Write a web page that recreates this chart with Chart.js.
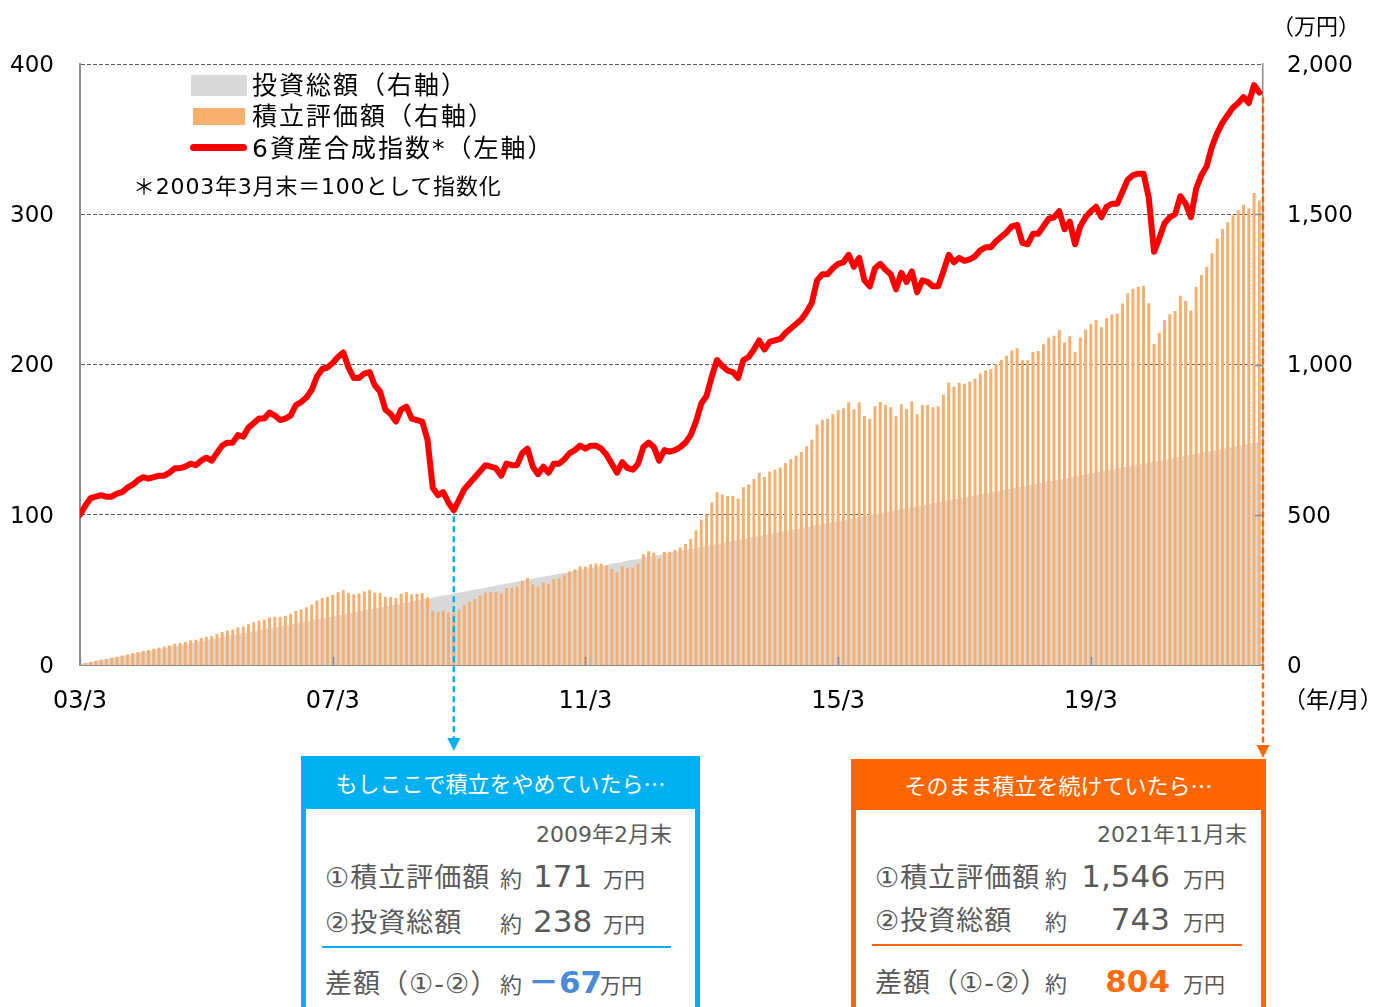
<!DOCTYPE html>
<html lang="ja">
<head>
<meta charset="utf-8">
<title>6資産合成指数と積立評価額</title>
<script src="https://cdn.jsdelivr.net/npm/chart.js@4.4.1/dist/chart.umd.min.js"></script>
<style>
  html, body { margin: 0; padding: 0; background: #fff; }
  body {
    width: 1394px; height: 1007px; position: relative; overflow: hidden;
    font-family: 'DejaVu Sans', 'Noto Sans CJK JP', sans-serif; color: #000;
  }
  #chart { position: absolute; left: 0; top: 0; }
  .t { position: absolute; line-height: 1; white-space: nowrap; }
  .leg { font-size: 25px; letter-spacing: 2px; }
  .sw { position: absolute; }
  .box {
    position: absolute; box-sizing: border-box; height: 270px;
    border: 5px solid; border-top: none; background: #fff;
  }
  .head {
    margin: 0 -5px; color: #fff; font-size: 22px; text-align: center;
    font-family: 'Noto Sans CJK JP', sans-serif;
  }
  .row {
    position: absolute; display: flex; align-items: baseline;
    line-height: 1; white-space: nowrap; color: #595959;
  }
  .row span { display: inline-block; }
  .lab { font-size: 27px; letter-spacing: 1px; }
  .yaku { font-size: 22px; }
  .num { font-size: 31px; }
  .unit { font-size: 21px; }
  .rule { position: absolute; height: 2px; }
</style>
</head>
<body>
<canvas id="chart" width="1394" height="1007"></canvas>

<!-- legend -->
<div class="sw" style="left:191px;top:75px;width:56px;height:21px;background:#d9d9d9"></div>
<div class="sw" style="left:193px;top:108px;width:52px;height:17px;background:#f8ae6c"></div>
<div class="sw" style="left:190px;top:144px;width:57px;height:7px;background:#ff0000;border-radius:4px"></div>
<div class="t leg" style="left:252px;top:73px">投資総額（右軸）</div>
<div class="t leg" style="left:252px;top:104px">積立評価額（右軸）</div>
<div class="t leg" style="left:252px;top:136px">6資産合成指数*（左軸）</div>
<div class="t" style="left:133px;top:176px;font-size:22px;letter-spacing:0.8px">＊2003年3月末＝100として指数化</div>

<!-- axis units -->
<div class="t" style="left:1272px;top:16px;font-size:22px">（万円）</div>
<div class="t" style="left:1283px;top:689px;font-size:23px">（年/月）</div>

<!-- left box -->
<div class="box" style="left:301px;top:756px;width:399px;border-color:#00b0f0">
  <div class="head" style="background:#00b0f0;height:53px;line-height:53px">もしここで積立をやめていたら…</div>
</div>
<div class="t" style="right:722px;top:824px;font-size:22px;color:#595959">2009年2月末</div>
<div class="row" style="left:325px;top:861px">
  <span class="lab" style="width:175px">①積立評価額</span><span class="yaku" style="width:33px">約</span><span class="num" style="width:70px">171</span><span class="unit">万円</span>
</div>
<div class="row" style="left:325px;top:906px">
  <span class="lab" style="width:175px">②投資総額</span><span class="yaku" style="width:33px">約</span><span class="num" style="width:70px">238</span><span class="unit">万円</span>
</div>
<div class="rule" style="left:322px;top:946px;width:349px;background:#00b0f0"></div>
<div class="row" style="left:325px;top:967px">
  <span class="lab" style="width:175px">差額（①-②）</span><span class="yaku" style="width:28px">約</span><span class="num" style="width:72px;font-weight:bold;color:#4a8ad8">－67</span><span class="unit">万円</span>
</div>

<!-- right box -->
<div class="box" style="left:851px;top:759px;width:415px;border-color:#ff6600">
  <div class="head" style="background:#ff6600;height:51px;line-height:51px">そのまま積立を続けていたら…</div>
</div>
<div class="t" style="right:147px;top:824px;font-size:22px;color:#595959">2021年11月末</div>
<div class="row" style="left:875px;top:861px">
  <span class="lab" style="width:170px">①積立評価額</span><span class="yaku" style="width:35px">約</span><span class="num" style="width:90px;text-align:right">1,546</span><span class="unit" style="margin-left:13px">万円</span>
</div>
<div class="row" style="left:875px;top:904px">
  <span class="lab" style="width:170px">②投資総額</span><span class="yaku" style="width:35px">約</span><span class="num" style="width:90px;text-align:right">743</span><span class="unit" style="margin-left:13px">万円</span>
</div>
<div class="rule" style="left:872px;top:944px;width:370px;background:#ff6600"></div>
<div class="row" style="left:875px;top:966px">
  <span class="lab" style="width:170px">差額（①-②）</span><span class="yaku" style="width:35px">約</span><span class="num" style="width:90px;text-align:right;font-weight:bold;color:#ff6d12">804</span><span class="unit" style="margin-left:13px">万円</span>
</div>

<script>
/* ─── Data: monthly, 2003/3 … 2021/11 ─── */
const tickIdx = [0, 48, 96, 144, 192];
const tickLabels = ['03/3', '07/3', '11/3', '15/3', '19/3'];
const stopMonth = 71; // 2009年2月

// 6資産合成指数 (2003年3月末 = 100)
const index6 = [
  100,106,111,112,113,112,112,114,115,118,120,123,
  125,124,125,126,126,128,131,131,132,134,133,136,
  138,136,141,146,148,148,153,152,158,161,164,164,
  168,166,163,164,166,173,175,178,183,192,197,198,
  201,205,208,198,191,191,194,195,186,182,170,167,
  162,170,172,164,163,162,150,118,113,115,108,103,
  110,117,121,125,129,133,132,131,126,134,133,133,
  141,144,132,127,132,128,134,134,137,141,143,146,
  144,146,146,144,140,134,128,135,131,130,134,145,
  148,145,136,143,142,143,145,148,153,162,174,179,
  192,203,199,196,195,191,203,205,210,216,210,215,
  216,217,221,224,227,230,235,241,256,260,260,264,
  267,268,273,265,271,256,252,264,267,263,260,250,
  261,255,262,248,256,255,252,252,262,273,268,271,
  269,270,272,276,278,278,282,285,288,292,293,281,
  280,287,287,292,297,298,302,290,295,280,292,298,
  302,305,298,305,307,307,315,323,326,327,327,311,
  275,284,294,298,300,312,307,298,317,326,332,345,
  354,361,366,371,374,378,374,386,381
];

// 積立評価額 (万円)
const valuation = [
  3,7,10,14,17,20,24,27,31,35,39,43,
  47,50,54,58,61,65,70,73,77,82,84,90,
  94,96,103,110,115,118,125,128,136,142,148,151,
  158,160,160,164,170,180,185,192,201,214,223,227,
  234,242,249,240,235,238,245,250,241,240,227,226,
  223,237,243,235,237,239,225,180,176,182,174,171,
  184,199,210,220,230,241,242,243,238,256,257,261,
  280,289,268,261,275,270,286,289,299,311,318,328,
  327,335,338,337,331,320,309,329,323,324,337,368,
  379,374,354,376,377,383,391,403,420,448,484,501,
  541,575,567,562,562,554,592,601,619,640,626,644,
  650,657,672,685,697,709,728,750,800,816,819,835,
  848,854,874,851,874,829,819,861,875,865,858,828,
  868,852,878,835,865,865,858,861,899,940,926,939,
  936,943,953,970,980,984,1001,1015,1029,1047,1054,1014,
  1014,1042,1045,1067,1089,1096,1114,1073,1094,1042,1090,1116,
  1134,1149,1125,1155,1166,1169,1203,1237,1252,1259,1262,1204,
  1068,1106,1148,1167,1178,1229,1212,1180,1259,1298,1325,1370,
  1419,1451,1474,1497,1513,1532,1519,1571,1546
];

// 投資総額 (万円)
const invested = [
  3,7,10,13,17,20,23,26,30,33,36,40,
  43,46,50,53,56,59,63,66,69,73,76,79,
  83,86,89,92,96,99,102,106,109,112,116,119,
  122,125,129,132,135,139,142,145,149,152,155,158,
  162,165,168,172,175,178,182,185,188,191,195,198,
  201,205,208,211,215,218,221,224,228,231,234,238,
  241,244,248,251,254,257,261,264,267,271,274,277,
  281,284,287,290,294,297,300,304,307,310,314,317,
  320,323,327,330,333,337,340,343,347,350,353,356,
  360,363,366,370,373,376,380,383,386,389,393,396,
  399,403,406,409,413,416,419,422,426,429,432,436,
  439,442,446,449,452,455,459,462,465,469,472,475,
  479,482,485,488,492,495,498,502,505,508,512,515,
  518,521,525,528,531,535,538,541,545,548,551,554,
  558,561,564,568,571,574,578,581,584,587,591,594,
  597,601,604,607,611,614,617,620,624,627,630,634,
  637,640,644,647,650,653,657,660,663,667,670,673,
  677,680,683,686,690,693,696,700,703,706,710,713,
  716,719,723,726,729,733,736,739,743
];

const FONT = "'DejaVu Sans', 'Noto Sans CJK JP', sans-serif";
const xy = arr => arr.map((v, i) => ({ x: i, y: v }));

/* ─── Arrows and inner tick marks ─── */
function arrow(ctx, x, y0, y1, color, width, dash, head) {
  ctx.save();
  ctx.strokeStyle = color;
  ctx.lineWidth = width;
  ctx.setLineDash(dash);
  ctx.beginPath();
  ctx.moveTo(x, y0);
  ctx.lineTo(x, y1);
  ctx.stroke();
  ctx.setLineDash([]);
  ctx.fillStyle = color;
  ctx.beginPath();
  ctx.moveTo(x - head / 2, y1);
  ctx.lineTo(x + head / 2, y1);
  ctx.lineTo(x, y1 + head);
  ctx.closePath();
  ctx.fill();
  ctx.restore();
}

const extras = {
  id: 'extras',
  afterDatasetsDraw(chart) {
    const { ctx, chartArea: a, scales: { x, y } } = chart;
    ctx.save();
    ctx.strokeStyle = '#8c8c8c';
    ctx.lineWidth = 1.5;
    ctx.beginPath();
    tickIdx.forEach(v => {
      const px = Math.round(x.getPixelForValue(v)) + 0.5;
      ctx.moveTo(px, a.bottom);
      ctx.lineTo(px, a.bottom - 8);
    });
    [100, 200, 300].forEach(v => {
      const py = Math.round(y.getPixelForValue(v)) + 0.5;
      ctx.moveTo(a.right - 8, py);
      ctx.lineTo(a.right, py);
    });
    ctx.stroke();
    ctx.restore();

    const bx = x.getPixelForValue(stopMonth);
    const by = y.getPixelForValue(index6[stopMonth]);
    arrow(ctx, bx, by + 6, 738, '#00b0f0', 2.5, [6, 4], 13);

    const last = index6.length - 1;
    const oy = y.getPixelForValue(index6[last]);
    arrow(ctx, a.right, oy + 5, 745, '#ff6600', 2.5, [6, 3], 13);
  }
};

/* ─── Chart ─── */
new Chart(document.getElementById('chart'), {
  type: 'bar',
  data: {
    datasets: [
      {
        type: 'line',
        label: '6資産合成指数*（左軸）',
        data: xy(index6),
        yAxisID: 'y',
        borderColor: '#ff0000',
        borderWidth: 6,
        borderJoinStyle: 'round',
        borderCapStyle: 'round',
        pointRadius: 0,
        tension: 0,
        order: 0
      },
      {
        label: '積立評価額（右軸）',
        data: xy(valuation),
        yAxisID: 'y1',
        backgroundColor: '#f8ae6c',
        barPercentage: 0.56,
        categoryPercentage: 1,
        order: 1
      },
      {
        type: 'line',
        label: '投資総額（右軸）',
        data: xy(invested),
        yAxisID: 'y1',
        backgroundColor: '#d9d9d9',
        borderWidth: 0,
        pointRadius: 0,
        fill: 'origin',
        order: 2
      }
    ]
  },
  options: {
    responsive: false,
    animation: false,
    devicePixelRatio: 1,
    layout: { padding: { top: 64, left: 0, right: 0, bottom: 0 } },
    plugins: {
      legend: { display: false },
      tooltip: { enabled: false }
    },
    scales: {
      x: {
        type: 'linear',
        min: 0,
        max: 224.7,
        offset: false,
        afterBuildTicks: s => { s.ticks = tickIdx.map(v => ({ value: v })); },
        afterFit: s => { s.height = 342; },
        grid: { display: false, drawTicks: false },
        border: { display: true, color: '#8c8c8c', width: 2 },
        ticks: {
          color: '#000',
          font: { family: FONT, size: 24 },
          padding: 22,
          autoSkip: false,
          maxRotation: 0,
          callback: v => tickLabels[tickIdx.indexOf(v)]
        }
      },
      y: {
        position: 'left',
        min: 0,
        max: 400,
        afterFit: s => { s.width = 80; },
        grid: {
          drawTicks: false,
          lineWidth: 1,
          color: c => (c.tick.value === 0 ? 'rgba(0,0,0,0)' : '#5a5a5a')
        },
        border: { display: true, color: '#8c8c8c', width: 2, dash: [4, 2] },
        ticks: {
          stepSize: 100,
          color: '#000',
          font: { family: FONT, size: 23 },
          padding: 26,
          labelOffset: 2
        }
      },
      y1: {
        position: 'right',
        min: 0,
        max: 2000,
        afterFit: s => { s.width = 131; },
        grid: { display: false, drawTicks: false },
        border: { display: true, color: '#8c8c8c', width: 1.5 },
        ticks: {
          stepSize: 500,
          color: '#000',
          font: { family: FONT, size: 23 },
          padding: 24,
          labelOffset: 2,
          callback: v => v.toLocaleString('en-US')
        }
      }
    }
  },
  plugins: [extras]
});
</script>
</body>
</html>
